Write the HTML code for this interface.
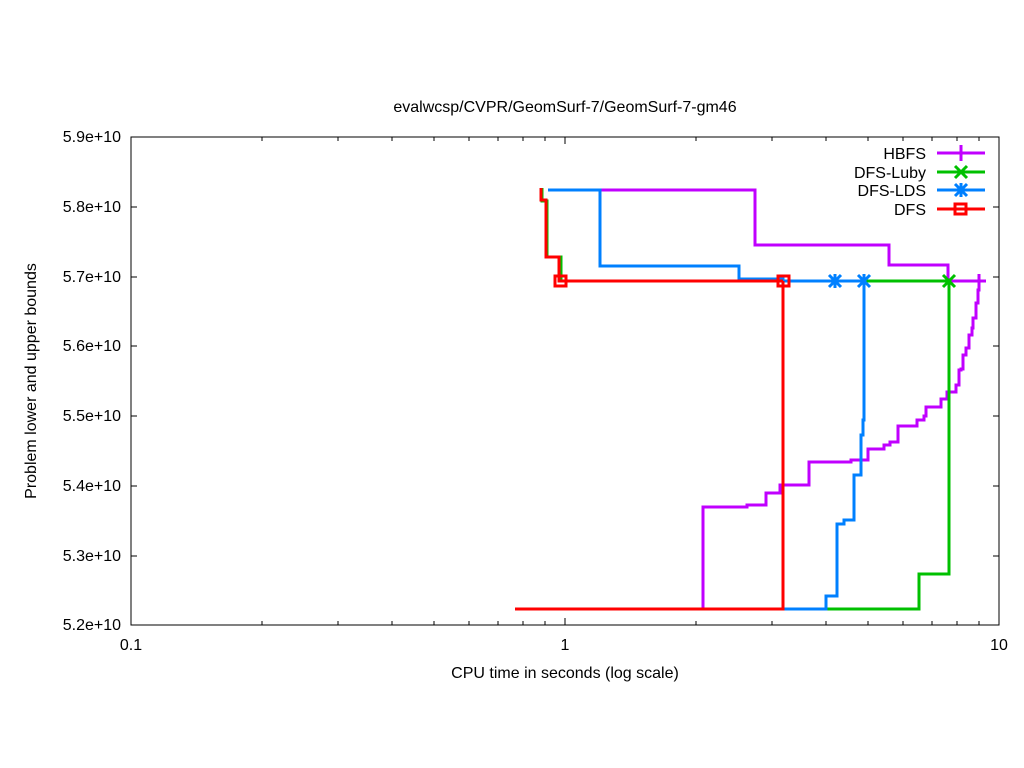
<!DOCTYPE html>
<html><head><meta charset="utf-8"><style>body{margin:0;background:#fff}svg{display:block}</style></head>
<body>
<svg width="1024" height="768" viewBox="0 0 1024 768" xmlns="http://www.w3.org/2000/svg" font-family="Liberation Sans, sans-serif" font-size="16">
<rect width="1024" height="768" fill="#fff"/>
<text x="565" y="112" text-anchor="middle">evalwcsp/CVPR/GeomSurf-7/GeomSurf-7-gm46</text>
<g stroke="#000" stroke-width="1" fill="none">
<rect x="131" y="137" width="868" height="488"/>
<path d="M131 207h6M999 207h-6M131 277h6M999 277h-6M131 346h6M999 346h-6M131 416h6M999 416h-6M131 486h6M999 486h-6M131 556h6M999 556h-6"/>
<path d="M131 625v-7M131 137v7M565 625v-7M565 137v7M999 625v-7M999 137v7"/>
<path d="M262 625v-4M338 625v-4M392 625v-4M434 625v-4M469 625v-4M498 625v-4M523 625v-4M545 625v-4M696 625v-4M772 625v-4M826 625v-4M868 625v-4M903 625v-4M932 625v-4M957 625v-4M979 625v-4
M262 137v4M338 137v4M392 137v4M434 137v4M469 137v4M498 137v4M523 137v4M545 137v4M696 137v4M772 137v4M826 137v4M868 137v4M903 137v4M932 137v4M957 137v4M979 137v4"/>
</g>
<g text-anchor="end">
<text x="121" y="142">5.9e+10</text><text x="121" y="212">5.8e+10</text><text x="121" y="282">5.7e+10</text><text x="121" y="351">5.6e+10</text><text x="121" y="421">5.5e+10</text><text x="121" y="491">5.4e+10</text><text x="121" y="561">5.3e+10</text><text x="121" y="630">5.2e+10</text>
</g>
<g text-anchor="middle">
<text x="131" y="650">0.1</text><text x="565" y="650">1</text><text x="999" y="650">10</text>
<text x="565" y="678">CPU time in seconds (log scale)</text>
</g>
<text transform="translate(36,381) rotate(-90)" text-anchor="middle">Problem lower and upper bounds</text>
<g fill="none" stroke-width="3">
<path stroke="#c000ff" d="M600 190H755V245H889V265H948V281H986"/>
<path stroke="#c000ff" d="M703 609V507H747V505H766V493H780V485H809V462H851V460H868V449H884V445H890V442H898V426H917V420H924V416H926V407H941V399H947V392H956V385H959V370H961V369H963V355H966V348H969V335H972V328H973V318H976V303H978V290H979V281H986"/>
<path stroke="#00c000" d="M542 188V201H547V257H561V281H949"/>
<path stroke="#00c000" d="M826 609H919V574H949V281"/>
<path stroke="#0080ff" d="M548 190H600V266H739V279H783V281H864"/>
<path stroke="#0080ff" d="M783 609H826V596H837V524H844V520H854V475H861V435H863V420H864V281"/>
<path stroke="#ff0000" d="M541 188V200H546V257H559V281H783"/>
<path stroke="#ff0000" d="M515 609H783V281"/>
</g>
<g fill="none" stroke-width="3">
<rect x="555" y="276" width="11" height="10" stroke="#f00"/>
<rect x="778" y="276" width="11" height="10" stroke="#f00"/>
<path stroke="#00c000" d="M943 275l12 12M955 275l-12 12"/>
<path stroke="#0080ff" d="M829 275l12 12M841 275l-12 12M835 274v14M858 275l12 12M870 275l-12 12M864 274v14"/>
<path stroke="#c000ff" d="M979 274v14"/>
</g>
<g text-anchor="end">
<text x="926" y="159">HBFS</text><text x="926" y="178">DFS-Luby</text><text x="926" y="196">DFS-LDS</text><text x="926" y="215">DFS</text>
</g>
<g fill="none" stroke-width="3">
<path stroke="#c000ff" d="M937 153H985"/><path stroke="#00c000" d="M937 172H985"/><path stroke="#0080ff" d="M937 190H985"/><path stroke="#f00" d="M937 209H985"/>
</g>
<g fill="none" stroke-width="3">
<path stroke="#c000ff" d="M961 145v16"/>
<path stroke="#00c000" d="M955 166l12 12M967 166l-12 12"/>
<path stroke="#0080ff" d="M955 184l12 12M967 184l-12 12M961 183v14"/>
<rect x="955" y="204" width="11" height="10" stroke="#f00"/>
</g>
</svg>
</body></html>
